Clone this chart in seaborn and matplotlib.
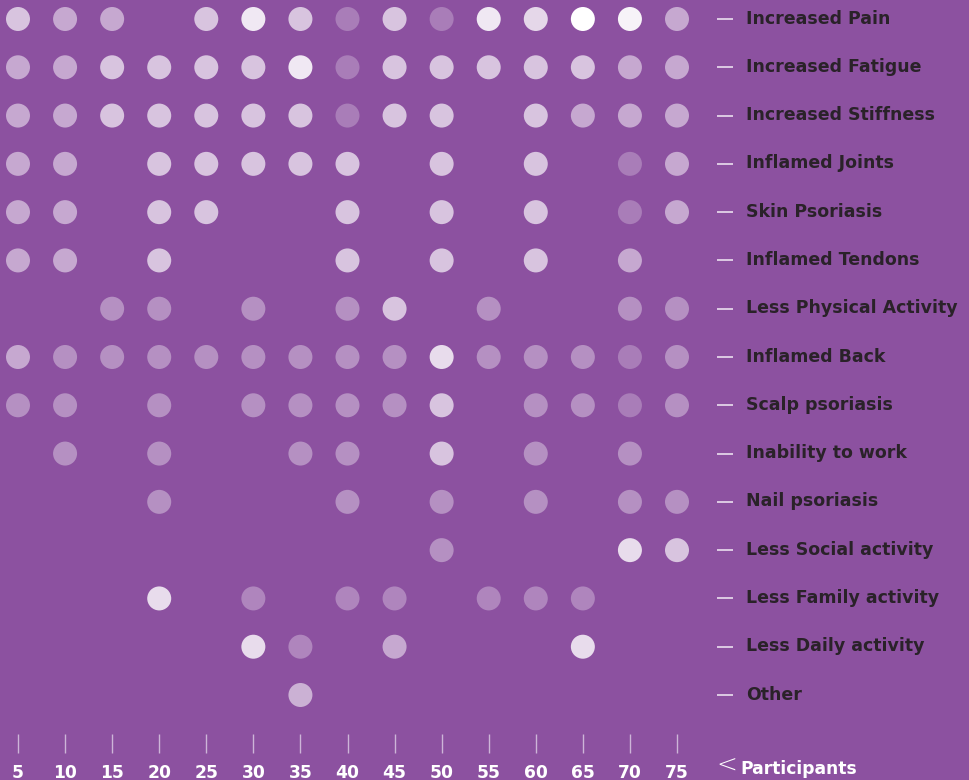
import numpy as np
import pandas as pd
import matplotlib
matplotlib.use("Agg")
import matplotlib.pyplot as plt
import matplotlib.transforms as mtransforms
import seaborn as sns

# ---- data ----
participants = [5, 10, 15, 20, 25, 30, 35, 40, 45, 50, 55, 60, 65, 70, 75]
symptoms = ["Increased Pain", "Increased Fatigue", "Increased Stiffness",
            "Inflamed Joints", "Skin Psoriasis", "Inflamed Tendons",
            "Less Physical Activity", "Inflamed Back", "Scalp psoriasis",
            "Inability to work", "Nail psoriasis", "Less Social activity",
            "Less Family activity", "Less Daily activity", "Other"]

# intensity of each dot (0 = no dot), aligned with `participants`
increased_pain      = [0.66, 0.5, 0.5, 0, 0.66, 0.87, 0.66, 0.25, 0.66, 0.25, 0.87, 0.77, 1.0, 0.93, 0.5]
increased_fatigue   = [0.5, 0.5, 0.66, 0.66, 0.66, 0.66, 0.87, 0.25, 0.66, 0.66, 0.66, 0.66, 0.66, 0.5, 0.5]
increased_stiffness = [0.5, 0.5, 0.66, 0.66, 0.66, 0.66, 0.66, 0.25, 0.66, 0.66, 0, 0.66, 0.5, 0.5, 0.5]
inflamed_joints     = [0.5, 0.5, 0, 0.66, 0.66, 0.66, 0.66, 0.66, 0, 0.66, 0, 0.66, 0, 0.25, 0.5]
skin_psoriasis      = [0.5, 0.5, 0, 0.66, 0.66, 0, 0, 0.66, 0, 0.66, 0, 0.66, 0, 0.25, 0.5]
inflamed_tendons    = [0.5, 0.5, 0, 0.66, 0, 0, 0, 0.66, 0, 0.66, 0, 0.66, 0, 0.5, 0]
less_physical       = [0, 0, 0.36, 0.36, 0, 0.36, 0, 0.36, 0.66, 0, 0.36, 0, 0, 0.36, 0.36]
inflamed_back       = [0.5, 0.36, 0.36, 0.36, 0.36, 0.36, 0.36, 0.36, 0.36, 0.8, 0.36, 0.36, 0.36, 0.25, 0.36]
scalp_psoriasis     = [0.36, 0.36, 0, 0.36, 0, 0.36, 0.36, 0.36, 0.36, 0.66, 0, 0.36, 0.36, 0.25, 0.36]
inability_to_work   = [0, 0.36, 0, 0.36, 0, 0, 0.36, 0.36, 0, 0.66, 0, 0.36, 0, 0.36, 0]
nail_psoriasis      = [0, 0, 0, 0.36, 0, 0, 0, 0.36, 0, 0.36, 0, 0.36, 0, 0.36, 0.36]
less_social         = [0, 0, 0, 0, 0, 0, 0, 0, 0, 0.36, 0, 0, 0, 0.8, 0.66]
less_family         = [0, 0, 0, 0.8, 0, 0.3, 0, 0.3, 0.3, 0, 0.3, 0.3, 0.3, 0, 0]
less_daily          = [0, 0, 0, 0, 0, 0.8, 0.3, 0, 0.5, 0, 0, 0, 0.8, 0, 0]
other               = [0, 0, 0, 0, 0, 0, 0.55, 0, 0, 0, 0, 0, 0, 0, 0]

rows = [increased_pain, increased_fatigue, increased_stiffness, inflamed_joints,
        skin_psoriasis, inflamed_tendons, less_physical, inflamed_back,
        scalp_psoriasis, inability_to_work, nail_psoriasis, less_social,
        less_family, less_daily, other]

records = []
for name, vals in zip(symptoms, rows):
    for p, v in zip(participants, vals):
        if v > 0:
            records.append({"participants": p, "symptom": name, "intensity": v})
df = pd.DataFrame(records)

# ---- style ----
BG = np.array([0x8c, 0x51, 0xa0]) / 255.0
LABEL_COLOR = "#2a2229"

def blend(a):
    c = BG + a * (1 - BG)
    return tuple(c)

palette = {v: blend(v) for v in sorted(df["intensity"].unique())}

sns.set_theme(style="white")
plt.rcParams["font.family"] = ["DejaVu Sans"]

W, H = 969, 780
fig = plt.figure(figsize=(W / 100, H / 100), dpi=100)
fig.patch.set_facecolor(BG)

ax_right_px = 717
ax_bottom_px = 753
ax = fig.add_axes([0, (H - ax_bottom_px) / H, ax_right_px / W, ax_bottom_px / H])
ax.set_facecolor(BG)

# scale: 5 -> 18 px, 75 -> 677 px ; row 0 -> 19 px, row 14 -> 695 px
px_per_x = (677 - 18) / 70
px_per_row = (695 - 19) / 14
x_left = 5 - 18 / px_per_x
x_right = 5 + (ax_right_px - 18) / px_per_x
y_top = -19 / px_per_row
y_bottom = (ax_bottom_px - 19) / px_per_row

dot_d_pt = 24 * 72 / 100
sns.scatterplot(data=df, x="participants", y="symptom", hue="intensity",
                palette=palette, s=dot_d_pt ** 2, linewidth=0, legend=False,
                ax=ax, zorder=3)

ax.set_xlim(x_left, x_right)
ax.set_ylim(y_bottom, y_top)
for s in ax.spines.values():
    s.set_visible(False)
ax.set_xlabel("")
ax.set_ylabel("")

ax.set_xticks(participants)
ax.set_xticklabels([str(p) for p in participants], fontsize=12.3,
                   fontweight="bold", color="white")
ax.tick_params(axis="x", direction="in", length=19 * 0.72, width=1.0,
               color="#cdb5d8", pad=7.6, bottom=True)

ax.set_yticks(range(len(symptoms)))
ax.set_yticklabels(symptoms, fontsize=12.5, fontweight="bold", color=LABEL_COLOR)
ax.yaxis.tick_right()
ax.tick_params(axis="y", direction="out", length=16 * 0.72, width=1.1,
               color="#f3ecf6", pad=9.4, right=True, left=False)
ax.grid(False)

# nudge the right-hand labels up a little to sit centred on the dash
shift = mtransforms.ScaledTranslation(0, 2.5 / 100, fig.dpi_scale_trans)
for t in ax.yaxis.get_major_ticks():
    t.label2.set_transform(t.label2.get_transform() + shift)

# axis title "< Participants"
fig.text(716 / W, 1 - 766 / H, "<", fontsize=18, color="white",
         fontweight="light", ha="left", va="center")
fig.text(740 / W, 1 - 769 / H, "Participants", fontsize=12.3, color="white",
         fontweight="bold", ha="left", va="center")

fig.savefig("out.png", dpi=100, facecolor=fig.get_facecolor())
